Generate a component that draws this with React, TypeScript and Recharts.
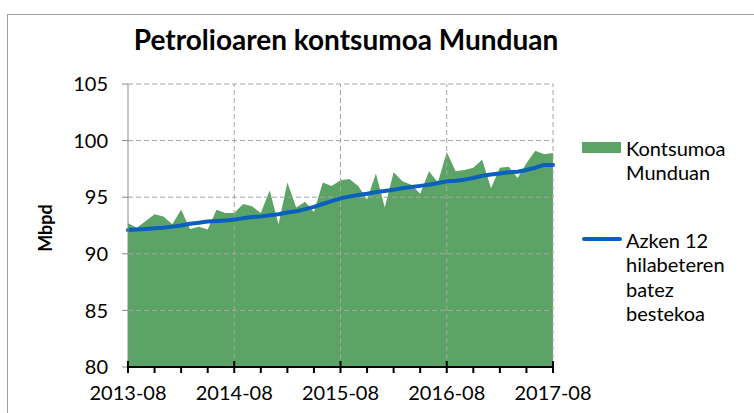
import React from 'react';
import { ComposedChart, Area, Line, XAxis, YAxis, ReferenceLine } from 'recharts';

const months = [
  '2013-08','2013-09','2013-10','2013-11','2013-12','2014-01','2014-02','2014-03','2014-04','2014-05','2014-06','2014-07',
  '2014-08','2014-09','2014-10','2014-11','2014-12','2015-01','2015-02','2015-03','2015-04','2015-05','2015-06','2015-07',
  '2015-08','2015-09','2015-10','2015-11','2015-12','2016-01','2016-02','2016-03','2016-04','2016-05','2016-06','2016-07',
  '2016-08','2016-09','2016-10','2016-11','2016-12','2017-01','2017-02','2017-03','2017-04','2017-05','2017-06','2017-07',
  '2017-08',
];

const consumption = [
  92.7, 92.3, 92.9, 93.5, 93.3, 92.6, 93.9, 92.2, 92.4, 92.15, 93.9, 93.6,
  93.6, 94.4, 94.2, 93.6, 95.6, 92.6, 96.3, 94.1, 94.6, 93.7, 96.3, 96.0,
  96.5, 96.6, 96.0, 94.8, 97.1, 94.1, 97.2, 96.4, 96.1, 95.3, 97.3, 96.3,
  99.0, 97.3, 97.4, 97.6, 98.3, 95.8, 97.6, 97.7, 96.7, 98.0, 99.1, 98.8,
  98.9,
];

const average12 = [
  92.1, 92.15, 92.2, 92.25, 92.3, 92.4, 92.5, 92.65, 92.75, 92.85, 92.9, 92.95,
  93.0, 93.15, 93.25, 93.3, 93.4, 93.5, 93.65, 93.75, 93.95, 94.15, 94.4, 94.65,
  94.9, 95.05, 95.2, 95.3, 95.45, 95.55, 95.65, 95.8, 95.9, 96.0, 96.1, 96.25,
  96.4, 96.45, 96.55, 96.7, 96.9, 97.0, 97.1, 97.2, 97.25, 97.4, 97.6, 97.85,
  97.85,
];

const yTicks = [80, 85, 90, 95, 100, 105];
const gridY = [85, 90, 95, 100, 105];
const majorLabels = ['2013-08', '2014-08', '2015-08', '2016-08', '2017-08'];

const data = months.map((m, i) => ({ idx: i, month: m, consumption: consumption[i], average: average12[i] }));
const xTicks = months.map((_, i) => i).filter((i) => i % 3 === 0);
const majorIdx = majorLabels.map((l) => months.indexOf(l));

const FONT = 'Lato, "Noto Sans", sans-serif';
const GREEN = '#5ba466';
const BLUE = '#0b5fbf';
const GRID = '#a6a6a6';

const XTick = (props: any) => {
  const { x, y, payload } = props;
  const isMajor = majorIdx.includes(payload.value);
  return (
    <g>
      <line x1={x} x2={x} y1={isMajor ? y - 6 : y} y2={y + 6} stroke="#000" strokeWidth={2} />
      {isMajor && (
        <text x={x} y={y + 33} textAnchor="middle" fontFamily={FONT} fontSize={20} fill="#000">
          {months[payload.value]}
        </text>
      )}
    </g>
  );
};

export default function App() {
  return (
    <div style={{ position: 'absolute', left: 0, top: 0, width: 754, height: 413, overflow: 'hidden', background: '#fff', fontFamily: FONT }}>
      <div style={{ position: 'absolute', left: 7, top: 14, width: 760, height: 420, border: '1px solid #9e9e9e', boxSizing: 'border-box' }} />
      <ComposedChart
        width={754}
        height={413}
        data={data}
        margin={{ top: 84, right: 201, bottom: 16, left: 0 }}
        style={{ position: 'absolute', left: 0, top: 0 }}
      >
        <XAxis
          dataKey="idx"
          type="number"
          domain={[0, 48]}
          ticks={xTicks}
          interval={0}
          height={30}
          tickSize={0}
          tickMargin={0}
          tickLine={false}
          axisLine={{ stroke: '#000', strokeWidth: 2 }}
          tick={<XTick />}
        />
        <YAxis
          type="number"
          domain={[80, 105]}
          ticks={yTicks}
          interval={0}
          width={128}
          tickSize={6}
          tickMargin={14}
          axisLine={{ stroke: '#8c8c8c', strokeWidth: 1 }}
          tickLine={{ stroke: '#8c8c8c' }}
          tick={{ fontFamily: FONT, fontSize: 20, fill: '#000' }}
        />
        {gridY.map((v) => (
          <ReferenceLine key={'gy' + v} y={v} stroke={GRID} strokeDasharray="5 3" strokeWidth={1} />
        ))}
        {majorIdx.slice(1).map((v) => (
          <ReferenceLine key={'gx' + v} x={v} stroke={GRID} strokeDasharray="5 3" strokeWidth={1} />
        ))}
        <Area
          dataKey="consumption"
          type="linear"
          fill={GREEN}
          fillOpacity={1}
          stroke="none"
          isAnimationActive={false}
        />
        <Line
          dataKey="average"
          type="linear"
          stroke={BLUE}
          strokeWidth={4}
          dot={false}
          strokeLinecap="round"
          strokeLinejoin="round"
          isAnimationActive={false}
        />
      </ComposedChart>
      <svg width={754} height={413} style={{ position: 'absolute', left: 0, top: 0, pointerEvents: 'none' }}>
        <text x={346} y={50} textAnchor="middle" fontFamily={FONT} fontWeight="bold" fontSize={28} fill="#000">
          Petrolioaren kontsumoa Munduan
        </text>
        <text
          x={0}
          y={0}
          transform="translate(52,228) rotate(-90)"
          textAnchor="middle"
          fontFamily={FONT}
          fontWeight="bold"
          fontSize={18}
          fill="#000"
        >
          Mbpd
        </text>
        <rect x={582} y={142} width={39} height={11} fill={GREEN} />
        <line x1={584} x2={620} y1={239} y2={239} stroke={BLUE} strokeWidth={4} strokeLinecap="round" />
      </svg>
      <div style={{ position: 'absolute', left: 626, top: 136, fontSize: 20, lineHeight: '24px', color: '#000' }}>
        Kontsumoa<br />Munduan
      </div>
      <div style={{ position: 'absolute', left: 626, top: 228, fontSize: 20, lineHeight: '24.3px', color: '#000' }}>
        Azken 12<br />hilabeteren<br />batez<br />bestekoa
      </div>
    </div>
  );
}
